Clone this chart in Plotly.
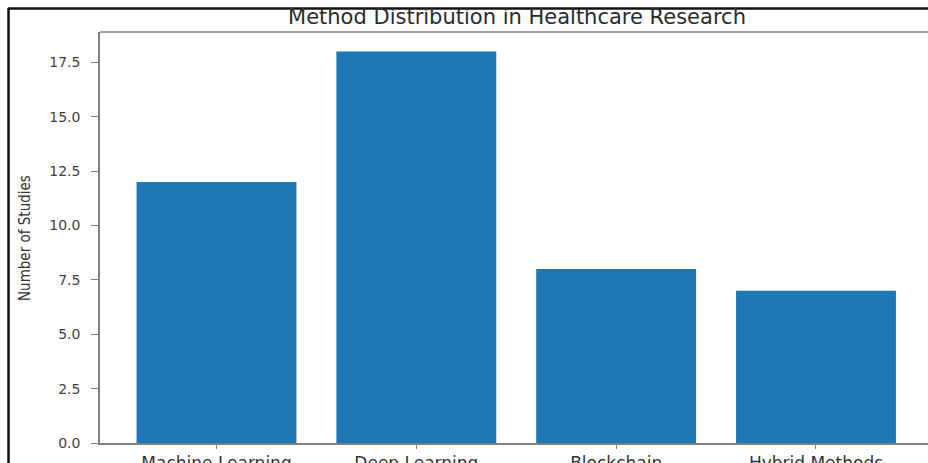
import plotly.graph_objects as go

# Number of studies per method family
methods = ["Machine Learning", "Deep Learning", "Blockchain", "Hybrid Methods"]
studies = [12, 18, 8, 7]
y_ticks = [0.0, 2.5, 5.0, 7.5, 10.0, 12.5, 15.0, 17.5]
y_tick_text = [f"{v:.1f}" for v in y_ticks]

W, H = 928, 463
L, R, T, B = 100, 0, 32, 20
PW, PH = W - L - R, H - T - B


def px_x(x):
    return (x - L) / PW


def px_y(y):
    return (H - B - y) / PH


fig = go.Figure(
    go.Bar(
        x=methods,
        y=studies,
        marker=dict(color="#1f77b4", line=dict(width=0)),
        hoverinfo="skip",
    )
)

axis_line = "#7f7f7f"
fig.update_layout(
    width=W,
    height=H,
    margin=dict(l=L, r=R, t=T, b=B, autoexpand=False),
    paper_bgcolor="white",
    plot_bgcolor="white",
    bargap=0.2,
    showlegend=False,
    font=dict(family="DejaVu Sans", color="#3a3a3a"),
    title=dict(
        text="Method Distribution in Healthcare Research",
        font=dict(family="DejaVu Sans", size=21, color="#2b2b2b"),
        xref="paper",
        x=px_x(517),
        xanchor="center",
        yref="container",
        y=1 - 17 / H,
        yanchor="middle",
    ),
    xaxis=dict(
        type="category",
        range=[-0.583, 3.5605],
        showgrid=False,
        zeroline=False,
        showline=True,
        mirror=False,
        linecolor=axis_line,
        linewidth=1.6,
        ticks="outside",
        ticklen=4,
        tickwidth=1.3,
        tickcolor=axis_line,
        tickfont=dict(family="DejaVu Sans", size=17, color="#333333"),
        automargin=False,
    ),
    yaxis=dict(
        range=[0, 18.9],
        tickvals=y_ticks,
        ticktext=y_tick_text,
        showgrid=False,
        zeroline=False,
        showline=True,
        mirror=False,
        linecolor=axis_line,
        linewidth=1.6,
        ticks="outside",
        ticklen=7,
        tickwidth=1.4,
        tickcolor=axis_line,
        ticklabelstandoff=8,
        tickfont=dict(family="DejaVu Sans", size=14, color="#3f3f3f"),
        automargin=False,
    ),
)

# y-axis label in a narrow face
fig.add_annotation(
    text="Number of Studies",
    xref="paper",
    yref="paper",
    x=px_x(25),
    y=px_y(238),
    xanchor="center",
    yanchor="middle",
    textangle=-90,
    showarrow=False,
    font=dict(family="Liberation Sans Narrow, DejaVu Sans Condensed, Arial Narrow", size=15, color="#333333"),
)

# top spine of the axes
fig.add_shape(type="line", xref="paper", yref="paper",
              x0=0, x1=1, y0=1, y1=1,
              line=dict(color=axis_line, width=1.6), layer="above")

# frame lines around the figure
fig.add_shape(type="line", xref="paper", yref="paper",
              x0=px_x(8), x1=px_x(W), y0=px_y(8.5), y1=px_y(8.5),
              line=dict(color="#111111", width=2.5), layer="above")
fig.add_shape(type="line", xref="paper", yref="paper",
              x0=px_x(8.5), x1=px_x(8.5), y0=px_y(8), y1=px_y(H),
              line=dict(color="#111111", width=2.5), layer="above")

fig.write_html("out.html")
